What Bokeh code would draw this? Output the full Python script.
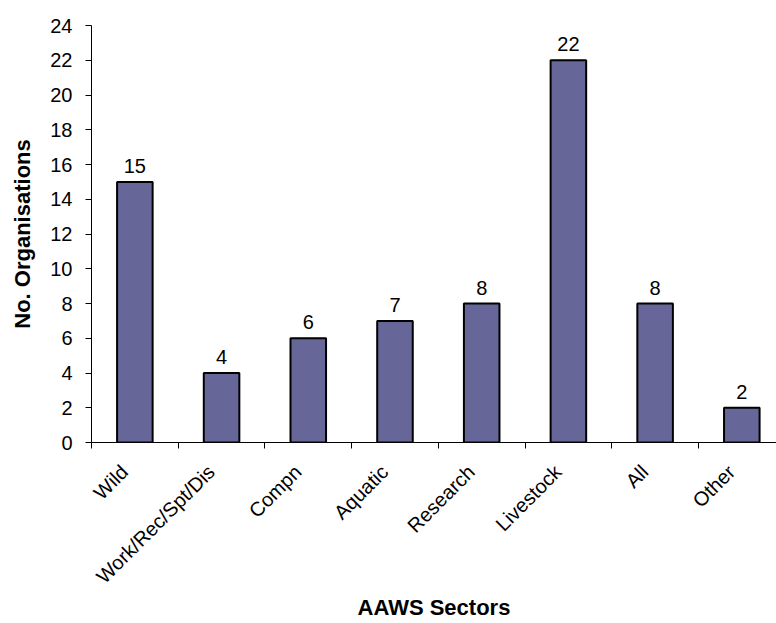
import math

from bokeh.core.properties import value
from bokeh.embed import file_html
from bokeh.models import ColumnDataSource, FixedTicker, Range1d
from bokeh.plotting import figure
from bokeh.resources import INLINE
from bokeh.transform import dodge

# Number of organisations per AAWS sector
sectors = ["Wild", "Work/Rec/Spt/Dis", "Compn", "Aquatic", "Research",
           "Livestock", "All", "Other"]
counts = [15, 4, 6, 7, 8, 22, 8, 2]
y_ticks = list(range(0, 25, 2))

FONT = "Liberation Sans"
BAR_COLOR = "#666699"

centers = [i + 0.5 for i in range(len(sectors))]
source = ColumnDataSource(dict(
    x=centers,
    top=counts,
    label=[str(c) for c in counts],
))

p = figure(
    width=776, height=623,
    x_range=Range1d(0, 7.9), y_range=Range1d(0, 24),
    output_backend="svg", toolbar_location=None,
    min_border_left=91, min_border_right=0,
    min_border_top=25, min_border_bottom=180,
)
p.outline_line_color = None
p.xgrid.visible = False
p.ygrid.visible = False
p.background_fill_color = "white"
p.border_fill_color = "white"

p.vbar(x="x", top="top", bottom=0, width=0.41, source=source,
       fill_color=BAR_COLOR, line_color="black", line_width=2)

# value labels floating just above each bar
p.text(x="x", y=dodge("top", 0.92), text="label", source=source,
       text_font=value(FONT), text_font_size="20px", text_color="black",
       text_align="center", text_baseline="middle")

# x axis: slanted labels near bar centres, small tick marks at category boundaries
label_pos = [c - 0.12 for c in centers]
xa = p.xaxis[0]
xa.ticker = FixedTicker(ticks=label_pos,
                        minor_ticks=list(range(len(sectors) + 1)))
xa.major_label_overrides = {c: s for c, s in zip(label_pos, sectors)}
xa.major_tick_line_color = None
xa.minor_tick_line_color = "black"
xa.minor_tick_in = 0
xa.minor_tick_out = 6
xa.major_label_orientation = math.pi / 4
xa.major_label_standoff = 20
xa.major_label_text_font = FONT
xa.major_label_text_font_size = "20px"
xa.major_label_text_color = "black"
xa.axis_line_color = "black"
xa.axis_label = "AAWS Sectors"
xa.axis_label_text_font = FONT
xa.axis_label_text_font_size = "22px"
xa.axis_label_text_font_style = "bold"
xa.axis_label_text_color = "black"
xa.axis_label_standoff = -3

ya = p.yaxis[0]
ya.ticker = FixedTicker(ticks=y_ticks, minor_ticks=[])
ya.major_tick_in = 0
ya.major_tick_out = 6
ya.major_tick_line_color = "black"
ya.axis_line_color = "black"
ya.major_label_standoff = 13
ya.major_label_text_font = FONT
ya.major_label_text_font_size = "20px"
ya.major_label_text_color = "black"
ya.axis_label = "No. Organisations"
ya.axis_label_text_font = FONT
ya.axis_label_text_font_size = "22px"
ya.axis_label_text_font_style = "bold"
ya.axis_label_text_color = "black"
ya.axis_label_standoff = 12

open("out.html", "w").write(file_html(p, INLINE))
